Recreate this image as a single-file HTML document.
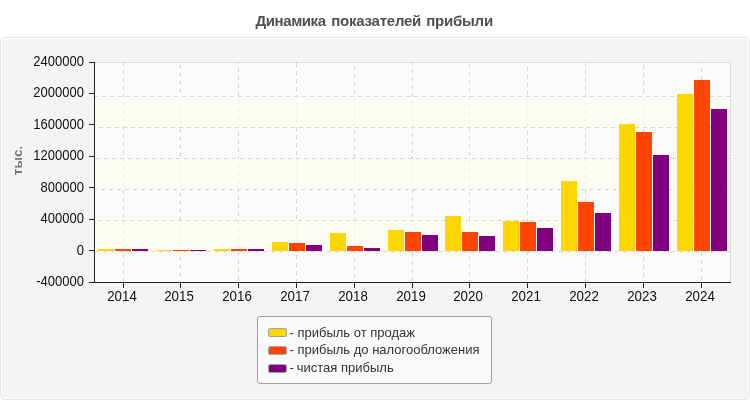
<!DOCTYPE html>
<html><head><meta charset="utf-8"><title>Chart</title>
<style>
html,body{margin:0;padding:0;background:#fff;}
body{width:750px;height:400px;position:relative;overflow:hidden;font-family:"Liberation Sans",sans-serif;}
.panel{position:absolute;left:0;top:37px;width:748px;height:361px;border:1px solid #e4e4e4;border-radius:5px;background:#f4f4f4;box-shadow:inset 0 0 0 1px #fff;}
.title span{position:absolute;top:12px;font-weight:bold;font-size:15px;line-height:17px;color:#505050;white-space:nowrap;letter-spacing:-0.24px;}
.yl{position:absolute;left:0;width:84px;text-align:right;font-size:14px;line-height:15px;color:#111;transform:scaleX(0.93);transform-origin:100% 0;white-space:nowrap;}
.xl{position:absolute;top:289px;width:60px;text-align:center;font-size:14px;line-height:15px;color:#111;transform:scaleX(0.95);transform-origin:50% 0;white-space:nowrap;}
.txt{position:absolute;left:0;top:0;width:750px;height:400px;will-change:transform;}
.unit{position:absolute;left:17.3px;top:160.5px;width:0;height:0;}
.unit span{position:absolute;left:-30px;top:-9px;width:60px;height:17px;line-height:17px;text-align:center;font-weight:bold;font-size:13.5px;color:#787878;transform:rotate(-90deg);display:block;white-space:nowrap;}
.legend{position:absolute;left:257px;top:316px;width:233px;height:66px;border:1px solid #a0a0a0;border-radius:3px;background:#fafafa;}
.sw{position:absolute;left:268px;width:19px;height:9px;border-radius:2.5px;background:#a2a2a2;}
.sw i{position:absolute;left:1px;top:1px;width:17px;height:7px;border-radius:1.5px;display:block;}
.lt{position:absolute;left:289.5px;font-size:13px;line-height:15px;color:#333;white-space:nowrap;}
</style></head><body>
<div class="panel"></div>

<svg width="750" height="400" style="position:absolute;left:0;top:0" shape-rendering="crispEdges">
<defs><pattern id="h" width="4" height="4" patternUnits="userSpaceOnUse"><g fill="#000" fill-opacity="0.058"><rect x="0" y="0" width="1" height="1"/><rect x="3" y="1" width="1" height="1"/><rect x="2" y="2" width="1" height="1"/><rect x="1" y="3" width="1" height="1"/></g></pattern></defs>
<rect x="95" y="62" width="636" height="220" fill="#ffffff"/>
<rect x="95" y="62" width="636" height="220" fill="url(#h)"/>
<line x1="123.5" y1="62" x2="123.5" y2="282" stroke="#d4d4d4" stroke-width="1" stroke-dasharray="4 4" stroke-dashoffset="0"/>
<line x1="180.5" y1="62" x2="180.5" y2="282" stroke="#d4d4d4" stroke-width="1" stroke-dasharray="4 4" stroke-dashoffset="-3"/>
<line x1="238.5" y1="62" x2="238.5" y2="282" stroke="#d4d4d4" stroke-width="1" stroke-dasharray="4 4" stroke-dashoffset="-6"/>
<line x1="296.5" y1="62" x2="296.5" y2="282" stroke="#d4d4d4" stroke-width="1" stroke-dasharray="4 4" stroke-dashoffset="-1"/>
<line x1="354.5" y1="62" x2="354.5" y2="282" stroke="#d4d4d4" stroke-width="1" stroke-dasharray="4 4" stroke-dashoffset="-4"/>
<line x1="412.5" y1="62" x2="412.5" y2="282" stroke="#d4d4d4" stroke-width="1" stroke-dasharray="4 4" stroke-dashoffset="-7"/>
<line x1="469.5" y1="62" x2="469.5" y2="282" stroke="#d4d4d4" stroke-width="1" stroke-dasharray="4 4" stroke-dashoffset="-2"/>
<line x1="527.5" y1="62" x2="527.5" y2="282" stroke="#d4d4d4" stroke-width="1" stroke-dasharray="4 4" stroke-dashoffset="-5"/>
<line x1="585.5" y1="62" x2="585.5" y2="282" stroke="#d4d4d4" stroke-width="1" stroke-dasharray="4 4" stroke-dashoffset="0"/>
<line x1="643.5" y1="62" x2="643.5" y2="282" stroke="#d4d4d4" stroke-width="1" stroke-dasharray="4 4" stroke-dashoffset="-3"/>
<line x1="701.5" y1="62" x2="701.5" y2="282" stroke="#d4d4d4" stroke-width="1" stroke-dasharray="4 4" stroke-dashoffset="-6"/>
<rect x="95" y="97" width="636" height="31" fill="rgb(253,253,242)" fill-opacity="0.6"/>
<rect x="95" y="159" width="636" height="31" fill="rgb(253,253,242)" fill-opacity="0.6"/>
<rect x="95" y="221" width="636" height="31" fill="rgb(253,253,242)" fill-opacity="0.6"/>
<rect x="95" y="62" width="636" height="1" fill="#dcdcdc"/>
<rect x="730" y="62" width="1" height="220" fill="#dcdcdc"/>
<line x1="94" y1="96.5" x2="730" y2="96.5" stroke="#d6d6d6" stroke-width="1" stroke-dasharray="4 4" stroke-dashoffset="0"/>
<line x1="94" y1="127.5" x2="730" y2="127.5" stroke="#d6d6d6" stroke-width="1" stroke-dasharray="4 4" stroke-dashoffset="3"/>
<line x1="94" y1="158.5" x2="730" y2="158.5" stroke="#d6d6d6" stroke-width="1" stroke-dasharray="4 4" stroke-dashoffset="6"/>
<line x1="94" y1="189.5" x2="730" y2="189.5" stroke="#d6d6d6" stroke-width="1" stroke-dasharray="4 4" stroke-dashoffset="1"/>
<line x1="94" y1="220.5" x2="730" y2="220.5" stroke="#d6d6d6" stroke-width="1" stroke-dasharray="4 4" stroke-dashoffset="4"/>
<line x1="94" y1="251.5" x2="730" y2="251.5" stroke="#d6d6d6" stroke-width="1" stroke-dasharray="4 4" stroke-dashoffset="7"/>
<rect x="98" y="249" width="16" height="2" fill="#FFD700"/>
<rect x="115" y="249" width="16" height="2" fill="#FF4500"/>
<rect x="132" y="249" width="16" height="2" fill="#800080"/>
<rect x="156" y="250" width="16" height="1" fill="#FFD700"/>
<rect x="173" y="250" width="16" height="1" fill="#FF4500"/>
<rect x="190" y="250" width="16" height="1" fill="#800080"/>
<rect x="214" y="249" width="16" height="2" fill="#FFD700"/>
<rect x="231" y="249" width="16" height="2" fill="#FF4500"/>
<rect x="248" y="249" width="16" height="2" fill="#800080"/>
<rect x="272" y="242" width="16" height="9" fill="#FFD700"/>
<rect x="289" y="243" width="16" height="8" fill="#FF4500"/>
<rect x="306" y="245" width="16" height="6" fill="#800080"/>
<rect x="330" y="233" width="16" height="18" fill="#FFD700"/>
<rect x="347" y="246" width="16" height="5" fill="#FF4500"/>
<rect x="364" y="248" width="16" height="3" fill="#800080"/>
<rect x="388" y="230" width="16" height="21" fill="#FFD700"/>
<rect x="405" y="232" width="16" height="19" fill="#FF4500"/>
<rect x="422" y="235" width="16" height="16" fill="#800080"/>
<rect x="445" y="216" width="16" height="35" fill="#FFD700"/>
<rect x="462" y="232" width="16" height="19" fill="#FF4500"/>
<rect x="479" y="236" width="16" height="15" fill="#800080"/>
<rect x="503" y="221" width="16" height="30" fill="#FFD700"/>
<rect x="520" y="222" width="16" height="29" fill="#FF4500"/>
<rect x="537" y="228" width="16" height="23" fill="#800080"/>
<rect x="561" y="181" width="16" height="70" fill="#FFD700"/>
<rect x="578" y="202" width="16" height="49" fill="#FF4500"/>
<rect x="595" y="213" width="16" height="38" fill="#800080"/>
<rect x="619" y="124" width="16" height="127" fill="#FFD700"/>
<rect x="636" y="132" width="16" height="119" fill="#FF4500"/>
<rect x="653" y="155" width="16" height="96" fill="#800080"/>
<rect x="677" y="94" width="16" height="157" fill="#FFD700"/>
<rect x="694" y="80" width="16" height="171" fill="#FF4500"/>
<rect x="711" y="109" width="16" height="142" fill="#800080"/>
<rect x="94" y="62" width="1" height="221" fill="#222"/>
<rect x="89" y="282" width="642" height="1" fill="#222"/>
<rect x="89" y="62" width="5" height="1" fill="#222"/>
<rect x="89" y="93" width="5" height="1" fill="#222"/>
<rect x="89" y="124" width="5" height="1" fill="#222"/>
<rect x="89" y="156" width="5" height="1" fill="#222"/>
<rect x="89" y="187" width="5" height="1" fill="#222"/>
<rect x="89" y="219" width="5" height="1" fill="#222"/>
<rect x="89" y="250" width="5" height="1" fill="#222"/>
<rect x="89" y="282" width="5" height="1" fill="#222"/>
<rect x="123" y="283" width="1" height="5" fill="#222"/>
<rect x="180" y="283" width="1" height="5" fill="#222"/>
<rect x="238" y="283" width="1" height="5" fill="#222"/>
<rect x="296" y="283" width="1" height="5" fill="#222"/>
<rect x="354" y="283" width="1" height="5" fill="#222"/>
<rect x="412" y="283" width="1" height="5" fill="#222"/>
<rect x="469" y="283" width="1" height="5" fill="#222"/>
<rect x="527" y="283" width="1" height="5" fill="#222"/>
<rect x="585" y="283" width="1" height="5" fill="#222"/>
<rect x="643" y="283" width="1" height="5" fill="#222"/>
<rect x="701" y="283" width="1" height="5" fill="#222"/>
</svg>
<div class="txt">
<div class="title"><span style="left:255.6px;letter-spacing:-0.44px">Динамика</span><span style="left:331.3px">показателей</span><span style="left:426.3px">прибыли</span></div>
<div class="yl" style="top:54px">2400000</div>
<div class="yl" style="top:85px">2000000</div>
<div class="yl" style="top:117px">1600000</div>
<div class="yl" style="top:148px">1200000</div>
<div class="yl" style="top:180px">800000</div>
<div class="yl" style="top:211px">400000</div>
<div class="yl" style="top:243px">0</div>
<div class="yl" style="top:274px">-400000</div>
<div class="xl" style="left:92px">2014</div>
<div class="xl" style="left:149px">2015</div>
<div class="xl" style="left:207px">2016</div>
<div class="xl" style="left:265px">2017</div>
<div class="xl" style="left:323px">2018</div>
<div class="xl" style="left:381px">2019</div>
<div class="xl" style="left:438px">2020</div>
<div class="xl" style="left:496px">2021</div>
<div class="xl" style="left:554px">2022</div>
<div class="xl" style="left:612px">2023</div>
<div class="xl" style="left:670px">2024</div>
<div class="unit"><span>тыс.</span></div>
<div class="legend"></div>
<div class="sw" style="top:328px"><i style="background:#FFD700"></i></div>
<div class="lt" style="top:325px">- прибыль от продаж</div>
<div class="sw" style="top:346px"><i style="background:#FF4500"></i></div>
<div class="lt" style="top:342px">- прибыль до налогообложения</div>
<div class="sw" style="top:364px"><i style="background:#800080"></i></div>
<div class="lt" style="top:360px">- <span style="margin-left:-0.7px">чистая прибыль</span></div>
</div>
</body></html>
